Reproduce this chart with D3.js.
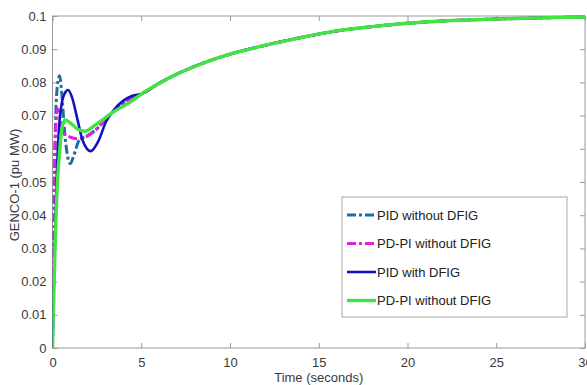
<!DOCTYPE html>
<html>
<head>
<meta charset="utf-8">
<script src="https://cdn.jsdelivr.net/npm/d3@7"></script>
<style>
  html, body { margin: 0; padding: 0; background: #fff; overflow: hidden; }
  svg { display: block; font-family: "Liberation Sans", Arial, Helvetica, sans-serif; }
</style>
</head>
<body>
<svg id="chart" width="587" height="385"></svg>
<script>
// Generator active power response, time in seconds vs. pu MW
const xTicks = [0, 5, 10, 15, 20, 25, 30];
const yTicks = [0, 0.01, 0.02, 0.03, 0.04, 0.05, 0.06, 0.07, 0.08, 0.09, 0.1];
const yTickLabels = ["0", "0.01", "0.02", "0.03", "0.04", "0.05", "0.06", "0.07", "0.08", "0.09", "0.1"];

// Shared settling part of all four responses
const tailT = [5, 6, 7, 8, 9, 10, 12, 14, 16, 18, 20, 22, 25, 28, 30];
const tailV = [0.0765, 0.0797, 0.0825, 0.0848, 0.0868, 0.0885, 0.0912, 0.0935, 0.0955, 0.0968, 0.0978, 0.0985, 0.0991, 0.0995, 0.0997];

const pidNoDfigT = [0, 0.08, 0.18, 0.3, 0.4, 0.5, 0.7, 0.9, 1.0, 1.2, 1.5, 2.0, 2.5, 3.0, 3.5, 4.0, 4.5];
const pidNoDfigV = [0, 0.040, 0.070, 0.080, 0.082, 0.078, 0.064, 0.0565, 0.0555, 0.058, 0.0625, 0.064, 0.066, 0.069, 0.0715, 0.0735, 0.0752];

const pdpiNoDfigT = [0, 0.05, 0.12, 0.2, 0.3, 0.4, 0.6, 1.0, 1.4, 1.9, 2.5, 3.0, 3.5, 4.0, 4.5];
const pdpiNoDfigV = [0, 0.030, 0.055, 0.068, 0.072, 0.070, 0.065, 0.0635, 0.063, 0.0637, 0.066, 0.069, 0.0715, 0.0735, 0.0752];

const pidDfigT = [0, 0.1, 0.2, 0.35, 0.5, 0.7, 0.88, 1.1, 1.4, 1.7, 2.15, 2.6, 3.0, 3.5, 4.0, 4.5];
const pidDfigV = [0, 0.025, 0.045, 0.065, 0.073, 0.0768, 0.0777, 0.0755, 0.069, 0.0625, 0.0593, 0.0625, 0.068, 0.072, 0.0745, 0.076];

const pdpiGreenT = [0, 0.1, 0.2, 0.3, 0.4, 0.5, 0.7, 1.0, 1.4, 1.8, 2.5, 3.4, 4.5];
const pdpiGreenV = [0, 0.022, 0.040, 0.052, 0.059, 0.065, 0.0688, 0.0678, 0.066, 0.0653, 0.0675, 0.071, 0.0745];

const seriesNames = ["PID without DFIG", "PD-PI without DFIG", "PID with DFIG", "PD-PI without DFIG"];
const seriesColors = ["#1d6ea6", "#e01fe0", "#1212c4", "#42e442"];
const seriesDash = ["9,3,3,3", "9,3,3,3", null, null];
const seriesWidth = [3, 3, 2.6, 3.4];

function join(ts, vs) {
  const pts = ts.map((t, i) => [t, vs[i]]);
  tailT.forEach((t, i) => { if (t > ts[ts.length - 1]) pts.push([t, tailV[i]]); });
  return pts;
}
const seriesData = [
  join(pidNoDfigT, pidNoDfigV),
  join(pdpiNoDfigT, pdpiNoDfigV),
  join(pidDfigT, pidDfigV),
  join(pdpiGreenT, pdpiGreenV)
];

const svg = d3.select("#chart");
const L = 52.5, R = 585, T = 16, B = 348;
const x = d3.scaleLinear().domain([0, 30]).range([L, R]);
const y = d3.scaleLinear().domain([0, 0.1]).range([B, T]);

const axisColor = "#9a9a9a", textColor = "#3a3a3a", fs = "13px";

// Frame
svg.append("rect").attr("x", L).attr("y", T).attr("width", R - L).attr("height", B - T)
  .attr("fill", "none").attr("stroke", axisColor).attr("stroke-width", 1);

function styleAxis(g, showText) {
  g.select(".domain").remove();
  g.selectAll(".tick line").attr("stroke", axisColor);
  g.selectAll(".tick text").attr("fill", textColor).style("font-size", fs)
    .style("display", showText ? null : "none");
}

svg.append("g").attr("transform", `translate(0,${B})`)
  .call(d3.axisBottom(x).tickValues(xTicks).tickSize(-5).tickPadding(10).tickFormat(d3.format("d")))
  .call(g => styleAxis(g, true));
svg.append("g").attr("transform", `translate(0,${T})`)
  .call(d3.axisTop(x).tickValues(xTicks).tickSize(-5))
  .call(g => styleAxis(g, false));
svg.append("g").attr("transform", `translate(${L},0)`)
  .call(d3.axisLeft(y).tickValues(yTicks).tickSize(-5).tickPadding(6).tickFormat((d, i) => yTickLabels[i]))
  .call(g => styleAxis(g, true));
svg.append("g").attr("transform", `translate(${R},0)`)
  .call(d3.axisRight(y).tickValues(yTicks).tickSize(-5))
  .call(g => styleAxis(g, false));

// Axis titles
svg.append("text").attr("x", (L + R) / 2).attr("y", 382).attr("text-anchor", "middle")
  .attr("fill", textColor).style("font-size", fs).text("Time (seconds)");
svg.append("text").attr("transform", `translate(19,${(T + B) / 2 + 3}) rotate(-90)`)
  .attr("text-anchor", "middle").attr("fill", textColor).style("font-size", fs)
  .text("GENCO-1 (pu MW)");

// Response curves
svg.append("clipPath").attr("id", "plotClip").append("rect")
  .attr("x", L).attr("y", T - 3).attr("width", R - L).attr("height", B - T + 3);
const line = d3.line().x(d => x(d[0])).y(d => y(d[1])).curve(d3.curveMonotoneX);
const plot = svg.append("g").attr("clip-path", "url(#plotClip)");
seriesData.forEach((pts, i) => {
  plot.append("path").datum(pts).attr("d", line).attr("fill", "none")
    .attr("stroke", seriesColors[i]).attr("stroke-width", seriesWidth[i])
    .attr("stroke-dasharray", seriesDash[i]).attr("stroke-linejoin", "round");
});

// Legend
const lg = svg.append("g");
lg.append("rect").attr("x", 342).attr("y", 197).attr("width", 225).attr("height", 120)
  .attr("fill", "#fff").attr("stroke", "#a8a8a8").attr("stroke-width", 1);
seriesNames.forEach((name, i) => {
  const yy = 215 + i * 28.5;
  lg.append("line").attr("x1", 347).attr("x2", 376).attr("y1", yy).attr("y2", yy)
    .attr("stroke", seriesColors[i]).attr("stroke-width", seriesWidth[i])
    .attr("stroke-dasharray", seriesDash[i]);
  lg.append("text").attr("x", 377).attr("y", yy + 4.5).attr("fill", "#222")
    .style("font-size", fs).text(name);
});
</script>
</body>
</html>
